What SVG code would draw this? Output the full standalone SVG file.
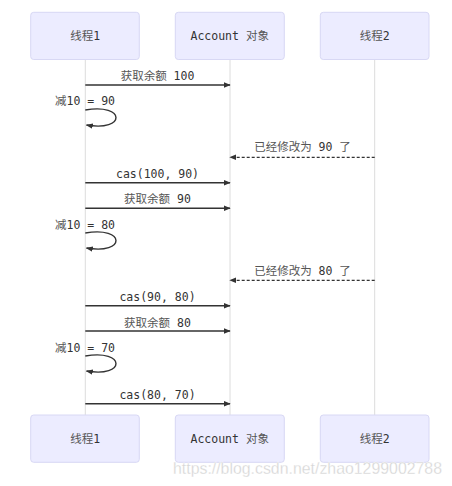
<svg xmlns="http://www.w3.org/2000/svg" width="452" height="486" viewBox="0 0 452 486">
<style>
.actor{fill:#ECECFF;stroke:#D8D8F4;stroke-width:1}
.life{stroke:#DCDCDC;stroke-width:1}
.t{font-family:"DejaVu Sans Mono","Noto Sans CJK SC",monospace;font-size:11.5px;fill:#333;text-anchor:middle;dominant-baseline:central}
.c{fill:#555}
.msg{stroke:#333;stroke-width:1.4;fill:none}
.dash{stroke:#333;stroke-width:1.2;fill:none;stroke-dasharray:3,2}
.wm{font-family:"Liberation Sans",Arial,sans-serif;font-size:16.5px;fill:#D4D4D4;stroke:#FFFFFF;stroke-width:0.3}
</style>
<defs>
<marker id="ah" viewBox="0 0 10 10" refX="9" refY="5" markerWidth="7" markerHeight="7" markerUnits="userSpaceOnUse" orient="auto">
<path d="M0,1 L10,5 L0,9 z" fill="#333"/>
</marker>
</defs>
<rect width="452" height="486" fill="#FFFFFF"/>
<g id="lifelines">
<line class="life" x1="85.3" y1="59.5" x2="85.3" y2="415"/>
<line class="life" x1="230" y1="59.5" x2="230" y2="415"/>
<line class="life" x1="374.7" y1="59.5" x2="374.7" y2="415"/>
</g>
<g id="actor-t1-top"><rect class="actor" x="30.7" y="12.3" width="108.6" height="47.2" rx="3"/><text class="t" x="85.3" y="36"><tspan class="c">线程</tspan>1</text></g>
<g id="actor-acc-top"><rect class="actor" x="175.3" y="12.3" width="109" height="47.2" rx="3"/><text class="t" x="229.7" y="36">Account <tspan class="c">对象</tspan></text></g>
<g id="actor-t2-top"><rect class="actor" x="320.3" y="12.3" width="108.7" height="47.2" rx="3"/><text class="t" x="374.7" y="36"><tspan class="c">线程</tspan>2</text></g>
<g id="actor-t1-bottom"><rect class="actor" x="30.7" y="415" width="108.6" height="47.3" rx="3"/><text class="t" x="85.3" y="439"><tspan class="c">线程</tspan>1</text></g>
<g id="actor-acc-bottom"><rect class="actor" x="175.3" y="415" width="109" height="47.3" rx="3"/><text class="t" x="229.7" y="439">Account <tspan class="c">对象</tspan></text></g>
<g id="actor-t2-bottom"><rect class="actor" x="320.3" y="415" width="108.7" height="47.3" rx="3"/><text class="t" x="374.7" y="439"><tspan class="c">线程</tspan>2</text></g>
<g id="connectors">
<line class="msg" x1="85.3" y1="85" x2="230" y2="85" marker-end="url(#ah)"/>
<path class="msg" d="M85.3,110 C126,103 126,132 86.5,125" marker-end="url(#ah)"/>
<line class="dash" x1="374.7" y1="157.3" x2="230" y2="157.3" marker-end="url(#ah)"/>
<line class="msg" x1="85.3" y1="182.7" x2="230" y2="182.7" marker-end="url(#ah)"/>
<line class="msg" x1="85.3" y1="208.3" x2="230" y2="208.3" marker-end="url(#ah)"/>
<path class="msg" d="M85.3,233 C126,226 126,255 86.5,248" marker-end="url(#ah)"/>
<line class="dash" x1="374.7" y1="280.3" x2="230" y2="280.3" marker-end="url(#ah)"/>
<line class="msg" x1="85.3" y1="305.7" x2="230" y2="305.7" marker-end="url(#ah)"/>
<line class="msg" x1="85.3" y1="331" x2="230" y2="331" marker-end="url(#ah)"/>
<path class="msg" d="M85.3,356 C126,349 126,378 86.5,371" marker-end="url(#ah)"/>
<line class="msg" x1="85.3" y1="403.7" x2="230" y2="403.7" marker-end="url(#ah)"/>
</g>
<g id="labels">
<text class="t" x="157.5" y="76"><tspan class="c">获取余额</tspan> 100</text>
<text class="t" x="85" y="101"><tspan class="c">减</tspan>10 = 90</text>
<text class="t" x="302.5" y="147.3"><tspan class="c">已经修改为</tspan> 90 <tspan class="c">了</tspan></text>
<text class="t" x="157.5" y="174">cas(100, 90)</text>
<text class="t" x="157.5" y="199.3"><tspan class="c">获取余额</tspan> 90</text>
<text class="t" x="85" y="225"><tspan class="c">减</tspan>10 = 80</text>
<text class="t" x="302.5" y="271.3"><tspan class="c">已经修改为</tspan> 80 <tspan class="c">了</tspan></text>
<text class="t" x="157.5" y="297.3">cas(90, 80)</text>
<text class="t" x="157.5" y="322.7"><tspan class="c">获取余额</tspan> 80</text>
<text class="t" x="85" y="347.7"><tspan class="c">减</tspan>10 = 70</text>
<text class="t" x="157.5" y="395">cas(80, 70)</text>
</g>
<text class="wm" x="173" y="474" textLength="269" lengthAdjust="spacingAndGlyphs">https://blog.csdn.net/zhao1299002788</text>
</svg>
